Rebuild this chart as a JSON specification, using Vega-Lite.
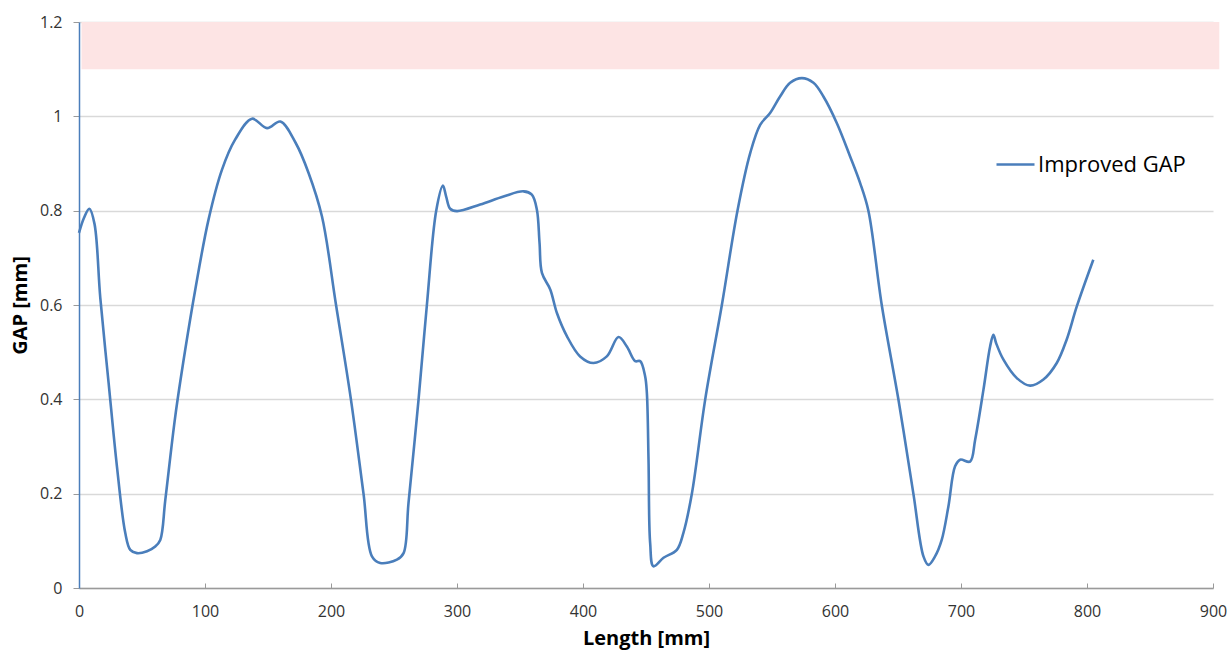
{
  "$schema": "https://vega.github.io/schema/vega-lite/v6.json",
  "width": 1134,
  "height": 566,
  "autosize": "none",
  "padding": {"left": 79, "top": 22, "right": 16, "bottom": 64},
  "background": "white",
  "config": {
    "view": {"stroke": null},
    "font": "Open Sans",
    "axis": {"labelFont": "Open Sans", "titleFont": "Open Sans", "labelColor": "#333333", "titleColor": "#000000"}
  },
  "datasets": {
    "gap": [
      {"length": 0, "gap": 0.753, "series": "Improved GAP"},
      {"length": 4, "gap": 0.785, "series": "Improved GAP"},
      {"length": 8.2, "gap": 0.804, "series": "Improved GAP"},
      {"length": 12.3, "gap": 0.772, "series": "Improved GAP"},
      {"length": 16.9, "gap": 0.615, "series": "Improved GAP"},
      {"length": 23.5, "gap": 0.435, "series": "Improved GAP"},
      {"length": 30.1, "gap": 0.258, "series": "Improved GAP"},
      {"length": 36.7, "gap": 0.117, "series": "Improved GAP"},
      {"length": 40.7, "gap": 0.081, "series": "Improved GAP"},
      {"length": 46, "gap": 0.074, "series": "Improved GAP"},
      {"length": 54, "gap": 0.078, "series": "Improved GAP"},
      {"length": 60.5, "gap": 0.088, "series": "Improved GAP"},
      {"length": 64.5, "gap": 0.102, "series": "Improved GAP"},
      {"length": 68.5, "gap": 0.187, "series": "Improved GAP"},
      {"length": 76.4, "gap": 0.364, "series": "Improved GAP"},
      {"length": 84.3, "gap": 0.505, "series": "Improved GAP"},
      {"length": 92.3, "gap": 0.633, "series": "Improved GAP"},
      {"length": 102.8, "gap": 0.781, "series": "Improved GAP"},
      {"length": 113.5, "gap": 0.887, "series": "Improved GAP"},
      {"length": 124, "gap": 0.951, "series": "Improved GAP"},
      {"length": 137.3, "gap": 0.995, "series": "Improved GAP"},
      {"length": 149.2, "gap": 0.975, "series": "Improved GAP"},
      {"length": 159.8, "gap": 0.989, "series": "Improved GAP"},
      {"length": 171.9, "gap": 0.944, "series": "Improved GAP"},
      {"length": 182.2, "gap": 0.88, "series": "Improved GAP"},
      {"length": 192.8, "gap": 0.788, "series": "Improved GAP"},
      {"length": 204, "gap": 0.6, "series": "Improved GAP"},
      {"length": 215.8, "gap": 0.4, "series": "Improved GAP"},
      {"length": 225.8, "gap": 0.2, "series": "Improved GAP"},
      {"length": 232.5, "gap": 0.067, "series": "Improved GAP"},
      {"length": 239, "gap": 0.053, "series": "Improved GAP"},
      {"length": 252.3, "gap": 0.06, "series": "Improved GAP"},
      {"length": 257.6, "gap": 0.074, "series": "Improved GAP"},
      {"length": 261.5, "gap": 0.18, "series": "Improved GAP"},
      {"length": 269.5, "gap": 0.4, "series": "Improved GAP"},
      {"length": 276.1, "gap": 0.6, "series": "Improved GAP"},
      {"length": 283.5, "gap": 0.8, "series": "Improved GAP"},
      {"length": 288.8, "gap": 0.853, "series": "Improved GAP"},
      {"length": 291.4, "gap": 0.83, "series": "Improved GAP"},
      {"length": 294.6, "gap": 0.804, "series": "Improved GAP"},
      {"length": 300, "gap": 0.799, "series": "Improved GAP"},
      {"length": 318.4, "gap": 0.813, "series": "Improved GAP"},
      {"length": 336.9, "gap": 0.83, "series": "Improved GAP"},
      {"length": 352.8, "gap": 0.841, "series": "Improved GAP"},
      {"length": 359.4, "gap": 0.834, "series": "Improved GAP"},
      {"length": 363.4, "gap": 0.802, "series": "Improved GAP"},
      {"length": 365.5, "gap": 0.732, "series": "Improved GAP"},
      {"length": 367.4, "gap": 0.668, "series": "Improved GAP"},
      {"length": 374, "gap": 0.633, "series": "Improved GAP"},
      {"length": 379.3, "gap": 0.583, "series": "Improved GAP"},
      {"length": 387.2, "gap": 0.534, "series": "Improved GAP"},
      {"length": 397.7, "gap": 0.491, "series": "Improved GAP"},
      {"length": 408.3, "gap": 0.477, "series": "Improved GAP"},
      {"length": 418.9, "gap": 0.491, "series": "Improved GAP"},
      {"length": 428.2, "gap": 0.532, "series": "Improved GAP"},
      {"length": 434.8, "gap": 0.512, "series": "Improved GAP"},
      {"length": 441.4, "gap": 0.481, "series": "Improved GAP"},
      {"length": 445.4, "gap": 0.481, "series": "Improved GAP"},
      {"length": 449.3, "gap": 0.449, "series": "Improved GAP"},
      {"length": 450.7, "gap": 0.413, "series": "Improved GAP"},
      {"length": 452, "gap": 0.272, "series": "Improved GAP"},
      {"length": 453.3, "gap": 0.095, "series": "Improved GAP"},
      {"length": 455.9, "gap": 0.046, "series": "Improved GAP"},
      {"length": 463.9, "gap": 0.064, "series": "Improved GAP"},
      {"length": 474.5, "gap": 0.081, "series": "Improved GAP"},
      {"length": 479.7, "gap": 0.117, "series": "Improved GAP"},
      {"length": 486.4, "gap": 0.2, "series": "Improved GAP"},
      {"length": 497, "gap": 0.4, "series": "Improved GAP"},
      {"length": 510.2, "gap": 0.6, "series": "Improved GAP"},
      {"length": 522.6, "gap": 0.8, "series": "Improved GAP"},
      {"length": 532.7, "gap": 0.922, "series": "Improved GAP"},
      {"length": 540.6, "gap": 0.982, "series": "Improved GAP"},
      {"length": 548.5, "gap": 1.007, "series": "Improved GAP"},
      {"length": 556.4, "gap": 1.042, "series": "Improved GAP"},
      {"length": 564.4, "gap": 1.071, "series": "Improved GAP"},
      {"length": 573.7, "gap": 1.081, "series": "Improved GAP"},
      {"length": 582.9, "gap": 1.071, "series": "Improved GAP"},
      {"length": 590.8, "gap": 1.042, "series": "Improved GAP"},
      {"length": 601.4, "gap": 0.986, "series": "Improved GAP"},
      {"length": 612, "gap": 0.915, "series": "Improved GAP"},
      {"length": 619.9, "gap": 0.859, "series": "Improved GAP"},
      {"length": 626.5, "gap": 0.8, "series": "Improved GAP"},
      {"length": 637.1, "gap": 0.6, "series": "Improved GAP"},
      {"length": 650.3, "gap": 0.4, "series": "Improved GAP"},
      {"length": 662.2, "gap": 0.2, "series": "Improved GAP"},
      {"length": 670.2, "gap": 0.067, "series": "Improved GAP"},
      {"length": 674.1, "gap": 0.049, "series": "Improved GAP"},
      {"length": 679.4, "gap": 0.067, "series": "Improved GAP"},
      {"length": 684.7, "gap": 0.102, "series": "Improved GAP"},
      {"length": 690, "gap": 0.173, "series": "Improved GAP"},
      {"length": 695.3, "gap": 0.258, "series": "Improved GAP"},
      {"length": 699.3, "gap": 0.272, "series": "Improved GAP"},
      {"length": 707.2, "gap": 0.268, "series": "Improved GAP"},
      {"length": 711.2, "gap": 0.314, "series": "Improved GAP"},
      {"length": 717.8, "gap": 0.42, "series": "Improved GAP"},
      {"length": 723.1, "gap": 0.512, "series": "Improved GAP"},
      {"length": 725.7, "gap": 0.537, "series": "Improved GAP"},
      {"length": 727.9, "gap": 0.519, "series": "Improved GAP"},
      {"length": 733.7, "gap": 0.484, "series": "Improved GAP"},
      {"length": 744.3, "gap": 0.445, "series": "Improved GAP"},
      {"length": 754.8, "gap": 0.429, "series": "Improved GAP"},
      {"length": 765.4, "gap": 0.442, "series": "Improved GAP"},
      {"length": 776, "gap": 0.477, "series": "Improved GAP"},
      {"length": 783.9, "gap": 0.527, "series": "Improved GAP"},
      {"length": 791.9, "gap": 0.597, "series": "Improved GAP"},
      {"length": 805, "gap": 0.696, "series": "Improved GAP"}
    ],
    "band": [
      {"x1": 2, "x2": 905, "y1": 1.1, "y2": 1.2}
    ]
  },
  "layer": [
    {
      "data": {"name": "band"},
      "mark": {"type": "rect", "color": "#fde4e4", "opacity": 1},
      "encoding": {
        "x": {"field": "x1", "type": "quantitative", "scale": {"domain": [0, 900], "nice": false, "zero": false},
          "axis": {"title": "Length [mm]", "values": [0, 100, 200, 300, 400, 500, 600, 700, 800, 900], "grid": false,
            "domainColor": "#9a9a9a", "domainWidth": 1.5, "tickColor": "#9a9a9a", "tickSize": -5, "tickWidth": 1,
            "labelFontSize": 16, "labelPadding": 20, "labelFlush": false,
            "titleFontSize": 20, "titleFontWeight": "bold", "titleY": 40, "titleBaseline": "top"}},
        "x2": {"field": "x2"},
        "y": {"field": "y1", "type": "quantitative", "scale": {"domain": [0, 1.2], "nice": false},
          "axis": {"title": "GAP [mm]", "values": [0, 0.2, 0.4, 0.6, 0.8, 1, 1.2], "format": ".1~f",
            "grid": true, "gridColor": "#d9d9d9", "gridWidth": 1.5,
            "domainColor": "#4a7ebb", "domainWidth": 1.5, "tickColor": "#9a9a9a", "tickSize": 6, "tickWidth": 1,
            "labelFontSize": 16, "labelPadding": 11,
            "titleFontSize": 20, "titleFontWeight": "bold", "titleX": -49, "titleY": 283, "titleBaseline": "bottom", "titleAngle": -90}},
        "y2": {"field": "y2"}
      }
    },
    {
      "data": {"name": "gap"},
      "mark": {"type": "line", "interpolate": "catmull-rom", "strokeWidth": 2.6},
      "encoding": {
        "x": {"field": "length", "type": "quantitative"},
        "y": {"field": "gap", "type": "quantitative"},
        "color": {"field": "series", "type": "nominal",
          "scale": {"range": ["#4a7ebb"]},
          "legend": {"title": null, "orient": "none", "legendX": 916, "legendY": 122, "padding": 0,
            "symbolType": "stroke", "symbolSize": 1444, "symbolStrokeWidth": 2.5,
            "labelFont": "Open Sans", "labelFontSize": 22, "labelColor": "#000000", "labelOffset": 2}}
      }
    }
  ]
}
